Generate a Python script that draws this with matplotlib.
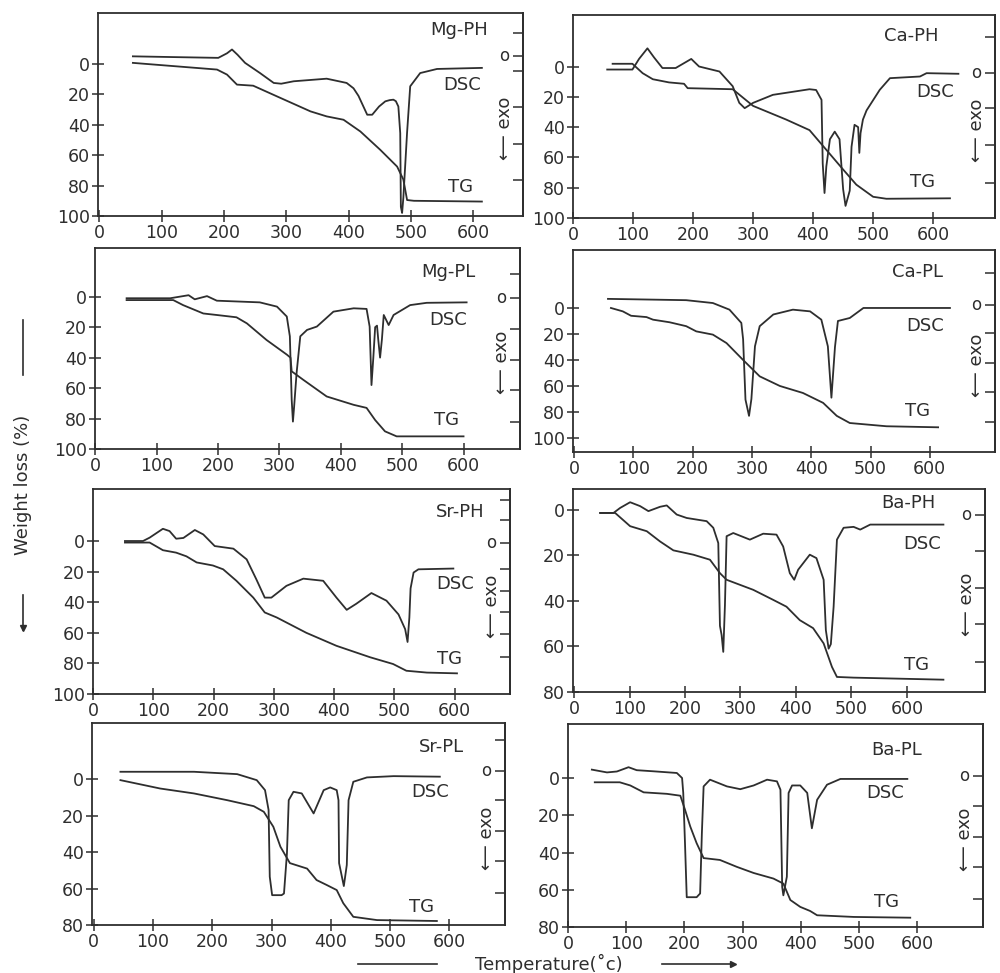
import matplotlib
matplotlib.use("Agg")
import matplotlib.pyplot as plt

# ---------- data (temperature in C, weight loss in %) ----------
# DSC values are drawn on the weight-loss scale of each panel

# Mg-PH
mgph_dsc_t = [54, 120, 191, 205, 213, 222, 234, 258, 280, 292, 312, 365, 397, 408, 416, 430, 438, 449, 459, 466, 472, 476, 480, 483, 484, 486, 488, 494, 499, 515, 542, 614]
mgph_dsc = [-5, -4.5, -4, -7, -9.5, -6, -0.7, 6, 12.5, 13, 11.4, 9.7, 12.5, 16, 21, 33.4, 33.4, 28, 24.6, 23.8, 23.5, 24.5, 28, 45.5, 94, 98, 88, 45, 14.7, 6, 3.3, 2.6]
mgph_tg_t = [54, 189, 205, 221, 247, 285, 339, 365, 392, 419, 451, 478, 488, 494, 505, 614]
mgph_tg = [-0.7, 3.7, 7, 13.6, 14.3, 21.3, 31.2, 34.5, 36.7, 44.4, 56.5, 67.5, 76, 89.5, 90, 90.5]

# Ca-PH
caph_dsc_t = [57, 99, 110, 124, 135, 149, 171, 197, 210, 244, 266, 277, 286, 300, 333, 394, 405, 414, 416, 419, 422, 428, 436, 444, 450, 454, 461, 464, 469, 475, 477, 479, 483, 489, 511, 528, 578, 589, 642]
caph_dsc = [2, 2, -5, -12, -6, 1, 1, -5, 0, 3.3, 13, 24, 27.5, 24, 18.7, 15, 15.5, 22, 64, 83.5, 66, 48, 43, 48, 81, 92, 82, 53, 38.5, 40, 57, 44, 35, 29, 15.4, 7.7, 6.6, 4.4, 4.8]
caph_tg_t = [66, 99, 116, 133, 160, 185, 191, 266, 300, 355, 394, 422, 450, 472, 500, 522, 628]
caph_tg = [-1.8, -1.8, 4.4, 8.4, 10.5, 11.4, 14.3, 15, 26, 35, 42, 55, 68, 78, 86, 87.3, 87]

# Mg-PL
mgpl_dsc_t = [51, 122, 152, 162, 182, 198, 268, 296, 312, 317, 320, 322, 324, 328, 334, 345, 361, 388, 421, 442, 447, 450, 453, 456, 459, 461, 464, 467, 470, 478, 486, 513, 540, 605]
mgpl_dsc = [1, 1, -1, 1.7, -0.4, 2.6, 3.7, 6.5, 13, 26, 67.7, 82, 72, 50, 26, 21.8, 19.6, 9.8, 7.6, 8, 19.6, 58, 40, 20, 19, 28, 40, 28, 12, 18.6, 12, 5.5, 4, 3.7]
mgpl_tg_t = [51, 127, 143, 176, 198, 230, 247, 279, 312, 318, 320, 339, 377, 421, 442, 456, 472, 491, 600]
mgpl_tg = [2.2, 2.2, 5.5, 11, 12, 13.5, 17.5, 28.4, 38, 40, 49, 54.6, 65.5, 71, 73, 81, 88.4, 91.7, 91.7]

# Ca-PL
capl_dsc_t = [57, 189, 234, 262, 282, 285, 289, 295, 299, 305, 313, 336, 369, 398, 417, 428, 434, 440, 445, 465, 488, 634]
capl_dsc = [-7, -6, -3.8, 1.3, 11.5, 24, 70.5, 83, 70, 29.5, 14, 5, 1.3, 2.6, 9, 29.5, 69, 30, 10, 7.7, 0, 0]
capl_tg_t = [62, 82, 96, 122, 133, 161, 189, 206, 234, 257, 285, 313, 347, 386, 420, 443, 465, 527, 614]
capl_tg = [0, 2.6, 6, 7, 9, 11, 14, 18, 20.5, 27, 40, 52.6, 60, 65.4, 73, 83, 88.5, 91, 91.8]

# Sr-PH
srph_dsc_t = [53, 83, 94, 116, 127, 138, 150, 169, 183, 202, 233, 255, 271, 285, 296, 321, 349, 382, 404, 421, 437, 462, 487, 507, 518, 522, 525, 527, 532, 540, 598]
srph_dsc = [0, 0, -2.2, -8, -6.5, -1.5, -2, -7.2, -4.3, 3.3, 5, 12, 25, 37, 37, 29.3, 24.6, 26, 37, 45, 41, 34, 39, 48, 57.6, 66, 50, 31, 20.6, 18.5, 18]
srph_tg_t = [53, 94, 116, 138, 155, 172, 199, 216, 238, 266, 285, 305, 354, 404, 460, 498, 520, 554, 604]
srph_tg = [1, 1, 6, 7.6, 10, 14, 16, 18.5, 26, 37, 46.7, 50, 60, 68.5, 76, 80.4, 84.8, 86, 86.5]

# Ba-PH
baph_dsc_t = [47, 71, 83, 101, 119, 134, 155, 167, 185, 203, 239, 251, 260, 263, 266, 269, 272, 275, 287, 317, 341, 365, 377, 389, 397, 404, 425, 437, 450, 454, 459, 463, 468, 474, 486, 504, 516, 534, 666]
baph_dsc = [1.5, 1.5, -0.7, -3.2, -1.5, 0.7, -1.2, -1.8, 2.2, 3.7, 5.1, 8, 14.7, 51, 55, 62.4, 42, 11.7, 10.3, 13.2, 10.6, 11, 16.2, 27.9, 30.8, 26.4, 19.8, 21.3, 30.8, 52.9, 61, 59, 42.6, 13.2, 8, 7.6, 8.8, 6.6, 6.6]
baph_tg_t = [47, 74, 101, 131, 155, 179, 215, 245, 263, 275, 323, 359, 383, 407, 431, 450, 465, 474, 504, 666]
baph_tg = [1.5, 1.5, 7.3, 9.5, 14, 17.9, 19.8, 22, 27.9, 30.8, 35.2, 39.6, 42.6, 48.5, 52, 58.7, 69, 73.4, 73.7, 74.6]

# Sr-PL
srpl_dsc_t = [45, 169, 242, 275, 289, 295, 297, 301, 317, 321, 326, 329, 337, 351, 371, 388, 399, 410, 413, 414, 422, 427, 430, 438, 461, 506, 584]
srpl_dsc = [-4.2, -4.2, -2.9, 0.4, 5.9, 16.8, 53.5, 63.6, 63.6, 62.7, 40.7, 11.4, 6.8, 7.7, 18.7, 5.9, 4.4, 5.9, 11.4, 46, 58.6, 47, 11.4, 1.3, -1.1, -1.8, -1.5]
srpl_tg_t = [45, 112, 169, 225, 270, 287, 303, 315, 331, 360, 376, 393, 410, 421, 438, 478, 579]
srpl_tg = [0.4, 5, 7.7, 11.4, 14.7, 17.8, 26, 37, 46, 49, 55.3, 58, 60.8, 68, 75.5, 77.3, 77.8]

# Ba-PL
bapl_dsc_t = [41, 67, 84, 104, 118, 147, 187, 196, 198, 201, 204, 221, 227, 230, 233, 244, 273, 296, 319, 342, 359, 365, 368, 370, 376, 379, 385, 399, 411, 419, 428, 445, 468, 583]
bapl_dsc = [-4.5, -3, -3.5, -5.8, -4.2, -3.6, -2.7, 0, 8, 35, 64, 64, 62, 29.7, 4.5, 0.9, 4.5, 6, 4, 0.9, 1.8, 6.3, 58.5, 63, 53, 8, 4, 4, 8, 27, 11.7, 3.6, 0.5, 0.5]
bapl_tg_t = [46, 89, 107, 130, 170, 193, 201, 210, 221, 233, 261, 290, 319, 353, 370, 382, 399, 416, 428, 491, 588]
bapl_tg = [2.3, 2.3, 4, 7.7, 8.5, 9.5, 17, 26, 35, 43, 44, 47.7, 51, 54, 56.7, 65.5, 69.2, 71.4, 73.7, 74.6, 75]

names = ["Mg-PH", "Ca-PH", "Mg-PL", "Ca-PL", "Sr-PH", "Ba-PH", "Sr-PL", "Ba-PL"]
xticks = [0, 100, 200, 300, 400, 500, 600]

# ---------- layout (pixel boxes of the scan: left, right, top, bottom) ----------
W, H = 1000, 973
C = "#2e2e2e"
plt.rcParams["font.family"] = ["DejaVu Sans"]
plt.rcParams["font.size"] = 12

panels = [
    # box, xlim, (ybottom, ytop), ymax tick, right ticks, o-level, label pos (name, DSC, TG), data
    ((98, 523, 13, 216), (-2, 680), (100, -33.5), 100, [-20.4, 4.4, 28.6, 52.5, 76], -5,
     ((577, -22), (582, 13.6), (580, 81)), (mgph_dsc_t, mgph_dsc, mgph_tg_t, mgph_tg)),
    ((573, 995, 15, 218), (0, 703), (100, -34), 100, [-19.8, 27.5, 52, 77], 4,
     ((564, -20), (603, 16.5), (583, 76)), (caph_dsc_t, caph_dsc, caph_tg_t, caph_tg)),
    ((95, 520, 248, 449), (-0.5, 692), (100, -32), 100, [-15, 21, 41.5, 61, 82], 1,
     ((575, -16), (575, 15), (573, 81)), (mgpl_dsc_t, mgpl_dsc, mgpl_tg_t, mgpl_tg)),
    ((573, 995, 250, 452), (-2, 710), (110.8, -44.6), 100, [-27, 19, 42, 65, 88], -2.6,
     ((580, -28), (592, 14), (580, 79.5)), (capl_dsc_t, capl_dsc, capl_tg_t, capl_tg)),
    ((93, 510, 489, 694), (0, 692), (100, -34), 100, [-27, -14, 18.5, 32.6, 46.7, 61, 76], 1,
     ((609, -19), (601, 28), (592, 77)), (srph_dsc_t, srph_dsc, srph_tg_t, srph_tg)),
    ((573, 985, 489, 692), (-2, 741), (80, -9), 80, [18.4, 34.5, 50, 66.8], 2.6,
     ((603, -3), (627, 15), (618, 68)), (baph_dsc_t, baph_dsc, baph_tg_t, baph_tg)),
    ((92, 505, 723, 925), (-3, 694), (80, -31), 80, [-21.6, 11.4, 28.2, 45, 62.3], -4.6,
     ((587, -18), (567, 6.8), (553, 70)), (srpl_dsc_t, srpl_dsc, srpl_tg_t, srpl_tg)),
    ((568, 983, 724, 927), (0, 713), (80, -29), 80, [15, 31.8, 47.7, 64.7], -0.9,
     ((565, -15), (545, 8), (548, 66.5)), (bapl_dsc_t, bapl_dsc, bapl_tg_t, bapl_tg)),
]

fig = plt.figure(figsize=(W / 100, H / 100), dpi=100)
fig.patch.set_facecolor("white")

for name, (box, xlim, ylim, ymax, rticks, olev, lab, data) in zip(names, panels):
    l, r, t, b = box
    ax = fig.add_axes([l / W, 1 - b / H, (r - l) / W, (b - t) / H])
    dsc_t, dsc, tg_t, tg = data
    ax.plot(dsc_t, dsc, color=C, lw=1.3)
    ax.plot(tg_t, tg, color=C, lw=1.3)
    ax.set_xlim(*xlim)
    ax.set_ylim(*ylim)
    ax.set_xticks(xticks)
    ax.set_yticks(list(range(0, ymax + 1, 20)))
    ax.tick_params(direction="inout", length=8, width=1.1, colors=C, labelsize=12.5, pad=2)
    for s in ax.spines.values():
        s.set_color(C)
        s.set_linewidth(1.3)

    ax2 = ax.twinx()
    ax2.set_ylim(*ylim)
    ax2.set_yticks(rticks + [olev])
    ax2.set_yticklabels([])
    ax2.tick_params(direction="in", length=7, width=1.1, colors=C)
    ax2.spines["right"].set_color(C)
    ax2.spines["right"].set_linewidth(1.3)
    for s in ["left", "top", "bottom"]:
        ax2.spines[s].set_visible(False)

    tr = ax.get_yaxis_transform()
    ax.text(0.955, olev, "o", transform=tr, ha="center", va="center", fontsize=12, color=C)
    ax.text(0.957, 0.43, "\u27f5 exo", transform=ax.transAxes, rotation=90,
            ha="center", va="center", fontsize=13, color=C)

    (nx, ny), (dx, dy), (gx, gy) = lab
    ax.text(nx, ny, name, ha="center", va="center", fontsize=13, color=C)
    ax.text(dx, dy, "DSC", ha="center", va="center", fontsize=13, color=C)
    ax.text(gx, gy, "TG", ha="center", va="center", fontsize=13, color=C)

# axis titles with arrows
fig.text(23 / W, 1 - 485 / H, "Weight loss (%)", rotation=90, ha="center", va="center",
         fontsize=13, color=C)
fig.add_artist(plt.Line2D([23 / W, 23 / W], [1 - 320 / H, 1 - 375 / H], color=C, lw=1.2))
fig.add_artist(plt.Line2D([23 / W, 23 / W], [1 - 595 / H, 1 - 630 / H], color=C, lw=1.2))
fig.add_artist(plt.Line2D([23 / W], [1 - 628 / H], marker="v", color=C, ms=5))

fig.text(549 / W, 1 - 964 / H, "Temperature(\u02dac)", ha="center", va="center",
         fontsize=13, color=C)
fig.add_artist(plt.Line2D([358 / W, 437 / W], [1 - 964 / H, 1 - 964 / H], color=C, lw=1.2))
fig.add_artist(plt.Line2D([662 / W, 733 / W], [1 - 964 / H, 1 - 964 / H], color=C, lw=1.2))
fig.add_artist(plt.Line2D([733 / W], [1 - 964 / H], marker=">", color=C, ms=5))

fig.savefig("out.png", dpi=100, facecolor="white")
